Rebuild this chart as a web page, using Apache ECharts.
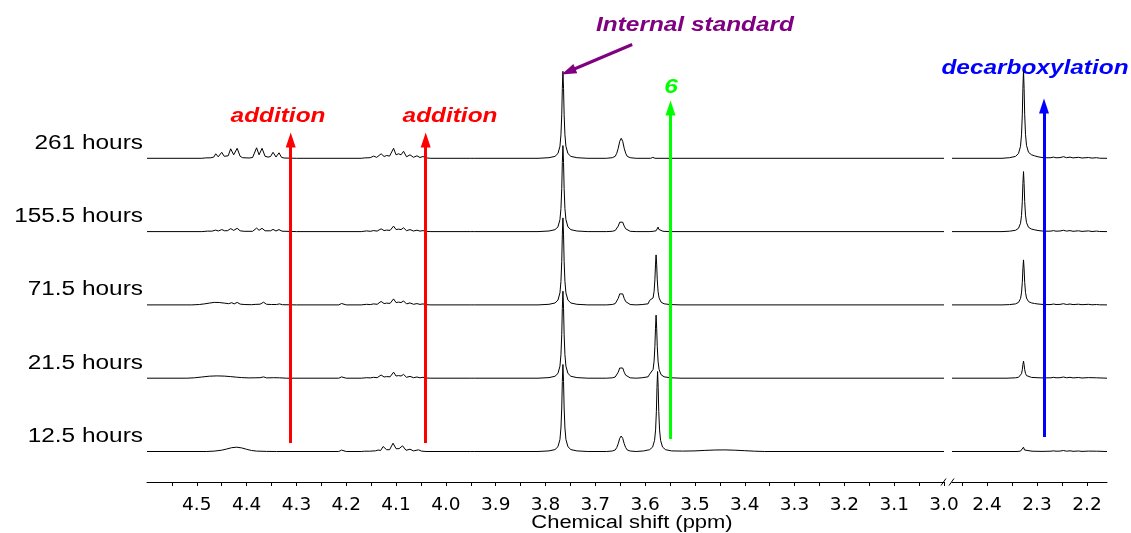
<!DOCTYPE html>
<html><head><meta charset="utf-8">
<script src="https://cdn.jsdelivr.net/npm/echarts@6/dist/echarts.min.js"></script>
<style>html,body{margin:0;padding:0;background:#fff}#c{width:1131px;height:533px}</style>
</head><body><div id="c"></div>
<script>
// ---- labels / ticks ----
const spectrumLabels = ['261 hours', '155.5 hours', '71.5 hours', '21.5 hours', '12.5 hours'];
const leftTickLabels = [3.0, 3.1, 3.2, 3.3, 3.4, 3.5, 3.6, 3.7, 3.8, 3.9, 4.0, 4.1, 4.2, 4.3, 4.4, 4.5];
const leftTickMarks = [3.0, 3.05, 3.1, 3.15, 3.2, 3.25, 3.3, 3.35, 3.4, 3.45, 3.5, 3.55, 3.6, 3.65, 3.7, 3.75, 3.8, 3.85, 3.9, 3.95, 4.0, 4.05, 4.1, 4.15, 4.2, 4.25, 4.3, 4.35, 4.4, 4.45, 4.5, 4.55];
const rightTickLabels = [2.2, 2.3, 2.4];
const rightTickMarks = [2.2, 2.25, 2.3, 2.35, 2.4, 2.45];

// ---- spectra: [ppm, intensity] ----
const s261L = [
[4.60,0],[4.49,0],[4.482,0.4],[4.478,1.5],[4.472,0.5],[4.466,1.2],[4.462,4.5],[4.457,1.5],[4.450,6],[4.445,2],[4.441,2.8],[4.437,2.5],[4.432,9.5],[4.426,3.5],[4.419,10],[4.413,2],[4.408,0.6],[4.395,0.3],[4.388,0.8],[4.380,10.5],[4.375,3.5],[4.369,10],[4.363,2],[4.357,1.2],[4.352,1.8],[4.347,6],[4.341,1.3],[4.335,5.5],[4.330,1],[4.325,0.3],[4.30,0],
[4.17,0],[4.163,0.4],[4.159,1.2],[4.152,0.6],[4.145,2.2],[4.139,0.9],[4.130,4.5],[4.124,1.8],[4.119,2.8],[4.113,2.2],[4.105,10],[4.100,3.5],[4.095,4.5],[4.090,3.5],[4.085,7],[4.079,1.5],[4.072,3.5],[4.065,1],[4.058,2.5],[4.052,0.8],[4.046,1.8],[4.040,0.4],[4.03,0],
[3.95,0],[3.946,0.8],[3.942,0],
[3.815,0],[3.793,0.6],[3.781,1.9],[3.775,4.8],[3.771,12],[3.769,23.5],[3.7674,43.5],[3.7662,70],[3.765,87],[3.7638,70],[3.7626,43.5],[3.761,23.5],[3.759,12],[3.755,4.8],[3.749,1.9],[3.737,0.6],[3.715,0],
[3.678,0],[3.666,0.6],[3.660,2],[3.657,5],[3.654,10],[3.651,17],[3.648,20],[3.645,17],[3.642,10],[3.639,5],[3.636,2],[3.630,0.6],[3.618,0],
[3.589,0],[3.5845,0.9],[3.580,0],
[3.0,0]];
const s155L = [
[4.60,0],[4.49,0],[4.478,0.5],[4.470,0.4],[4.462,1.5],[4.457,0.6],[4.450,2],[4.444,0.8],[4.438,1],[4.432,3],[4.426,1.2],[4.419,3.3],[4.413,0.8],[4.405,0.3],[4.388,0.3],[4.380,3.5],[4.375,1.3],[4.369,3.3],[4.363,0.8],[4.352,0.8],[4.347,2.2],[4.341,0.6],[4.335,2],[4.329,0.4],[4.30,0],
[4.17,0],[4.159,0.7],[4.152,0.3],[4.145,1],[4.138,0.5],[4.130,2.8],[4.124,1],[4.119,1.5],[4.112,1.2],[4.105,5.5],[4.100,2],[4.095,2.5],[4.090,2],[4.085,3.8],[4.079,0.9],[4.072,2],[4.065,0.6],[4.058,1.4],[4.052,0.5],[4.046,1],[4.040,0.2],[4.03,0],
[3.95,0],[3.946,0.8],[3.942,0],
[3.815,0],[3.793,0.6],[3.781,1.9],[3.775,4.7],[3.771,12],[3.769,23],[3.7674,43],[3.7662,69],[3.765,86],[3.7638,69],[3.7626,43],[3.761,23],[3.759,12],[3.755,4.7],[3.749,1.9],[3.737,0.6],[3.715,0],
[3.678,0],[3.666,0.3],[3.660,1.1],[3.657,2.8],[3.654,5.5],[3.651,9.4],[3.648,11],[3.645,9.4],[3.642,5.5],[3.639,2.8],[3.636,1.1],[3.630,0.3],[3.618,0],
[3.592,0],[3.584,0.3],[3.578,0.8],[3.5755,2.2],[3.574,4.5],[3.5725,2.2],[3.570,0.8],[3.564,0.3],[3.55,0],
[3.0,0]];
const s71L = [
[4.60,0],[4.51,0],[4.495,0.4],[4.485,1],[4.475,1.8],[4.465,2.5],[4.455,2.4],[4.445,1.8],[4.436,1.2],[4.430,2.2],[4.425,1],[4.419,2.5],[4.413,0.8],[4.405,0.4],[4.390,0.2],[4.383,0.5],[4.379,2],[4.373,0.7],[4.366,2.7],[4.360,0.6],[4.350,0.4],[4.346,1.1],[4.340,0.4],[4.334,1],[4.328,0.2],[4.30,0],
[4.215,0],[4.2095,1.4],[4.2075,0.2],[4.20,0],
[4.17,0],[4.159,0.6],[4.152,0.3],[4.145,1],[4.138,0.6],[4.130,3.5],[4.124,1.3],[4.119,1.8],[4.112,1.5],[4.105,6],[4.100,2.3],[4.095,2.8],[4.090,2.3],[4.085,4],[4.079,1],[4.072,2],[4.065,0.6],[4.058,1.3],[4.052,0.5],[4.046,1],[4.040,0.2],[4.03,0],
[3.95,0],[3.946,0.8],[3.942,0],
[3.815,0],[3.793,0.6],[3.781,1.9],[3.775,4.8],[3.771,12],[3.769,23.5],[3.7674,43.5],[3.7662,70],[3.765,87],[3.7638,70],[3.7626,43.5],[3.761,23.5],[3.759,12],[3.755,4.8],[3.749,1.9],[3.737,0.6],[3.715,0],
[3.678,0],[3.666,0.4],[3.660,1.3],[3.657,3.3],[3.654,6.5],[3.651,11],[3.648,13],[3.645,11],[3.642,6.5],[3.639,3.3],[3.636,1.3],[3.630,0.4],[3.618,0],
[3.606,0.35],[3.594,1.1],[3.5925,2.2],[3.591,4.5],[3.5895,2.6],[3.588,2.75],[3.584,7],[3.582,13.5],[3.5804,25],[3.5792,40],[3.578,50],[3.5768,40],[3.5756,25],[3.574,13.5],[3.572,7],[3.568,2.75],[3.562,1.1],[3.550,0.35],[3.528,0],
[3.0,0]];
const s21L = [
[4.60,0],[4.52,0],[4.505,0.4],[4.490,1.2],[4.475,2],[4.460,2.3],[4.445,2.1],[4.432,1.6],[4.420,1],[4.410,0.6],[4.395,0.3],[4.383,0.4],[4.379,1.1],[4.373,0.5],[4.366,1.3],[4.360,0.3],[4.346,0.5],[4.334,0.4],[4.32,0],
[4.215,0],[4.2095,1.3],[4.2075,0.2],[4.20,0],
[4.17,0],[4.159,0.5],[4.152,0.3],[4.145,0.9],[4.138,0.5],[4.130,3.2],[4.124,1.2],[4.119,1.6],[4.112,1.4],[4.105,6],[4.100,2.2],[4.095,2.6],[4.090,2.2],[4.085,3.8],[4.079,0.9],[4.072,1.8],[4.065,0.5],[4.058,1.2],[4.052,0.4],[4.046,0.9],[4.040,0.2],[4.03,0],
[3.95,0],[3.946,0.8],[3.942,0],
[3.815,0],[3.793,0.6],[3.781,1.9],[3.775,4.8],[3.771,12],[3.769,23.5],[3.7674,43.5],[3.7662,70],[3.765,87],[3.7638,70],[3.7626,43.5],[3.761,23.5],[3.759,12],[3.755,4.8],[3.749,1.9],[3.737,0.6],[3.715,0],
[3.678,0],[3.666,0.36],[3.660,1.2],[3.657,3],[3.654,6],[3.651,10.2],[3.648,12],[3.645,10.2],[3.642,6],[3.639,3],[3.636,1.2],[3.630,0.36],[3.618,0],
[3.606,0.44],[3.594,1.4],[3.5925,2.2],[3.591,4],[3.5895,2.8],[3.588,3.5],[3.584,8.8],[3.582,17],[3.5804,31.5],[3.5792,50],[3.578,63],[3.5768,50],[3.5756,31.5],[3.574,17],[3.572,8.8],[3.568,3.5],[3.562,1.4],[3.550,0.44],[3.528,0],
[3.0,0]];
const s12L = [
[4.60,0],[4.48,0],[4.465,0.4],[4.450,1.3],[4.440,2.5],[4.430,3.8],[4.420,4.3],[4.410,3.6],[4.400,2.2],[4.390,1],[4.380,0.4],[4.360,0.1],[4.34,0],
[4.215,0],[4.2095,1.4],[4.2075,0.2],[4.20,0],
[4.17,0],[4.163,0.3],[4.159,0.8],[4.153,0.3],[4.141,0.7],[4.136,1.5],[4.131,1],[4.126,5],[4.119,1.8],[4.113,1.8],[4.106,8.3],[4.100,2.8],[4.094,2.8],[4.087,5.7],[4.080,1.2],[4.072,2.3],[4.065,0.6],[4.055,1.7],[4.049,0.4],[4.04,0],
[3.95,0],[3.946,0.7],[3.942,0],
[3.815,0],[3.793,0.6],[3.781,1.9],[3.775,4.8],[3.771,12],[3.769,23.5],[3.7674,43.5],[3.7662,70],[3.765,87],[3.7638,70],[3.7626,43.5],[3.761,23.5],[3.759,12],[3.755,4.8],[3.749,1.9],[3.737,0.6],[3.715,0],
[3.678,0],[3.666,0.47],[3.660,1.55],[3.657,3.9],[3.654,7.75],[3.651,13.2],[3.648,15.5],[3.645,13.2],[3.642,7.75],[3.639,3.9],[3.636,1.55],[3.630,0.47],[3.618,0],
[3.603,0.56],[3.591,1.8],[3.585,4.4],[3.581,11.2],[3.579,21.6],[3.5774,40],[3.5762,64],[3.575,80],[3.5738,64],[3.5726,40],[3.571,21.6],[3.569,11.2],[3.565,4.4],[3.559,1.8],[3.547,0.6],[3.525,0.4],
[3.50,0.6],[3.48,1.1],[3.46,1.5],[3.44,1.6],[3.42,1.3],[3.40,0.8],[3.38,0.3],[3.36,0],
[3.0,0]];

const s261R = [[2.47,0],[2.37,0],[2.355,0.6],[2.343,1.9],[2.337,4.8],[2.333,12],[2.331,23.5],[2.3294,43.5],[2.3282,70],[2.327,88],[2.3258,70],[2.3246,43.5],[2.323,24],[2.321,13],[2.317,6],[2.311,3.5],[2.305,2.5],[2.298,1.5],[2.290,0.8],[2.280,0.5],[2.272,0.6],[2.267,1.2],[2.262,0.5],[2.254,0.7],[2.247,1.6],[2.241,0.6],[2.234,1.2],[2.228,0.4],[2.217,1],[2.210,0.3],[2.197,0.8],[2.190,0.2],[2.181,0.6],[2.175,0.1],[2.16,0]];
const s155R = [[2.47,0],[2.37,0],[2.355,0.4],[2.343,1.3],[2.337,3.3],[2.333,8.3],[2.331,16],[2.3294,30],[2.3282,48],[2.327,60],[2.3258,48],[2.3246,30],[2.323,16.5],[2.321,9],[2.317,4.3],[2.311,2.5],[2.305,1.8],[2.298,1.1],[2.290,0.6],[2.280,0.4],[2.272,0.5],[2.267,1],[2.262,0.4],[2.254,0.6],[2.247,1.3],[2.241,0.5],[2.234,1],[2.228,0.3],[2.217,0.8],[2.210,0.2],[2.197,0.7],[2.190,0.1],[2.181,0.5],[2.175,0.1],[2.16,0]];
const s71R = [[2.47,0],[2.37,0],[2.355,0.3],[2.343,1],[2.337,2.5],[2.333,6.3],[2.331,12],[2.3294,22.5],[2.3282,36],[2.327,45],[2.3258,36],[2.3246,22.5],[2.323,12.5],[2.321,6.8],[2.317,3.3],[2.311,2],[2.305,1.4],[2.298,0.9],[2.290,0.5],[2.280,0.3],[2.272,0.4],[2.267,0.9],[2.262,0.4],[2.254,0.5],[2.247,1.2],[2.241,0.4],[2.234,0.9],[2.228,0.3],[2.217,0.7],[2.210,0.2],[2.197,0.6],[2.190,0.1],[2.181,0.4],[2.175,0.1],[2.16,0]];
const s21R = [[2.47,0],[2.36,0],[2.343,0.4],[2.337,0.9],[2.333,2.4],[2.331,4.5],[2.3294,8.5],[2.3282,13.6],[2.327,17],[2.3258,13.6],[2.3246,8.5],[2.323,4.8],[2.321,2.6],[2.317,1.3],[2.311,0.8],[2.300,0.5],[2.290,0.3],[2.272,0.4],[2.267,0.9],[2.262,0.4],[2.254,0.5],[2.247,1.2],[2.241,0.4],[2.234,0.9],[2.228,0.3],[2.217,0.7],[2.210,0.2],[2.197,0.6],[2.181,0.4],[2.16,0]];
const s12R = [[2.47,0],[2.34,0],[2.333,0.4],[2.329,1.5],[2.327,4.3],[2.325,1.5],[2.321,0.6],[2.310,0.3],[2.290,0.1],[2.272,0.3],[2.267,0.7],[2.262,0.3],[2.254,0.4],[2.247,1],[2.241,0.3],[2.234,0.7],[2.228,0.2],[2.217,0.5],[2.210,0.1],[2.197,0.4],[2.181,0.3],[2.16,0]];

const leftSpectra = [s261L, s155L, s71L, s21L, s12L];
const rightSpectra = [s261R, s155R, s71R, s21R, s12R];

// ---- annotation positions (ppm / intensity units) ----
const additionShifts = [4.3115, 4.0405];
const product6Shift = 3.549;
const decarbShift = 2.286;

// ---- layout ----
const gridTop = 40, gridH = 442, axisY = gridTop + gridH;
const baseOffset = 30.5, stackStep = 73.3;
const offsetOf = i => baseOffset + (leftSpectra.length - 1 - i) * stackStep;

const lineStyle = { color: '#000', width: 1 };
const series = [];
leftSpectra.forEach((d, i) => {
  series.push({
    type: 'line', xAxisIndex: 0, yAxisIndex: 0, showSymbol: false, symbol: 'none',
    silent: true, lineStyle, data: d.map(p => [p[0], p[1] + offsetOf(i)]), z: 2
  });
});
rightSpectra.forEach((d, i) => {
  series.push({
    type: 'line', xAxisIndex: 1, yAxisIndex: 1, showSymbol: false, symbol: 'none',
    silent: true, lineStyle, data: d.map(p => [p[0], p[1] + offsetOf(i)]), z: 2
  });
});

function arrow(x1, y1, x2, y2, color) {
  return [
    { coord: [x1, y1], symbol: 'none', lineStyle: { color, width: 3 } },
    { coord: [x2, y2], symbol: 'triangle', symbolSize: [10, 15], itemStyle: { color }, lineStyle: { color, width: 3 } }
  ];
}
series.push({
  type: 'line', xAxisIndex: 0, yAxisIndex: 0, data: [], silent: true, z: 5,
  markLine: {
    silent: true, animation: false, label: { show: false }, symbol: ['none', 'triangle'],
    lineStyle: { type: 'solid', width: 3 },
    data: [
      arrow(additionShifts[0], 39, additionShifts[0], 342, '#ff0000'),
      arrow(additionShifts[1], 39, additionShifts[1], 342, '#ff0000'),
      arrow(product6Shift, 43, product6Shift, 374, '#00ff00'),
      arrow(3.626, 437.5, 3.754, 410.5, '#800080')
    ]
  }
});
series.push({
  type: 'line', xAxisIndex: 1, yAxisIndex: 1, data: [], silent: true, z: 5,
  markLine: {
    silent: true, animation: false, label: { show: false }, symbol: ['none', 'triangle'],
    lineStyle: { type: 'solid', width: 3 },
    data: [arrow(decarbShift, 45, decarbShift, 376, '#0000ff')]
  }
});

const axisCommon = {
  type: 'value', inverse: true,
  axisLine: { show: true, onZero: false, lineStyle: { color: '#000', width: 1 } },
  splitLine: { show: false }
};
const lab = { formatter: v => Number(v).toFixed(1), fontFamily: 'DejaVu Sans', fontSize: 18.5, color: '#000', margin: 14 };

const annFont = 'italic bold 20px "Liberation Sans"';
const graphic = [];
spectrumLabels.forEach((t, i) => {
  graphic.push({ type: 'text', x: 143, y: axisY - offsetOf(i) - 15, scaleX: 1.22,
    style: { text: t, font: '20px "Liberation Sans"', fill: '#000', align: 'right', verticalAlign: 'middle' } });
});
graphic.push(
  { type: 'text', x: 278, y: 116, scaleX: 1.22, style: { text: 'addition', font: annFont, fill: '#ff0000', align: 'center', verticalAlign: 'middle' } },
  { type: 'text', x: 450, y: 116, scaleX: 1.22, style: { text: 'addition', font: annFont, fill: '#ff0000', align: 'center', verticalAlign: 'middle' } },
  { type: 'text', x: 695, y: 25, scaleX: 1.22, style: { text: 'Internal standard', font: annFont, fill: '#800080', align: 'center', verticalAlign: 'middle' } },
  { type: 'text', x: 671, y: 87, scaleX: 1.22, style: { text: '6', font: annFont, fill: '#00ff00', align: 'center', verticalAlign: 'middle' } },
  { type: 'text', x: 1035, y: 68, scaleX: 1.22, style: { text: 'decarboxylation', font: annFont, fill: '#0000ff', align: 'center', verticalAlign: 'middle' } },
  { type: 'text', x: 632, y: 523, scaleX: 1.22, style: { text: 'Chemical shift (ppm)', font: '18px "Liberation Sans"', fill: '#000', align: 'center', verticalAlign: 'middle' } },
  { type: 'line', shape: { x1: 941, y1: axisY + 3.5, x2: 946, y2: axisY - 3.5 }, style: { stroke: '#000', lineWidth: 1 } },
  { type: 'line', shape: { x1: 949, y1: axisY + 3.5, x2: 954, y2: axisY - 3.5 }, style: { stroke: '#000', lineWidth: 1 } }
);

const chart = echarts.init(document.getElementById('c'), null, { renderer: 'canvas' });
chart.setOption({
  animation: false,
  backgroundColor: '#fff',
  grid: [
    { left: 147, top: gridTop, width: 797, height: gridH },
    { left: 952, top: gridTop, width: 155, height: gridH }
  ],
  xAxis: [
    Object.assign({}, axisCommon, { gridIndex: 0, min: 3.0, max: 4.6,
      axisTick: { show: true, customValues: leftTickMarks, length: 4, lineStyle: { color: '#000' } },
      axisLabel: Object.assign({ customValues: leftTickLabels }, lab) }),
    Object.assign({}, axisCommon, { gridIndex: 1, min: 2.16, max: 2.47,
      axisTick: { show: true, customValues: rightTickMarks, length: 4, lineStyle: { color: '#000' } },
      axisLabel: Object.assign({ customValues: rightTickLabels }, lab) })
  ],
  yAxis: [
    { type: 'value', gridIndex: 0, min: 0, max: gridH, show: false },
    { type: 'value', gridIndex: 1, min: 0, max: gridH, show: false }
  ],
  series,
  graphic
});
</script></body></html>
